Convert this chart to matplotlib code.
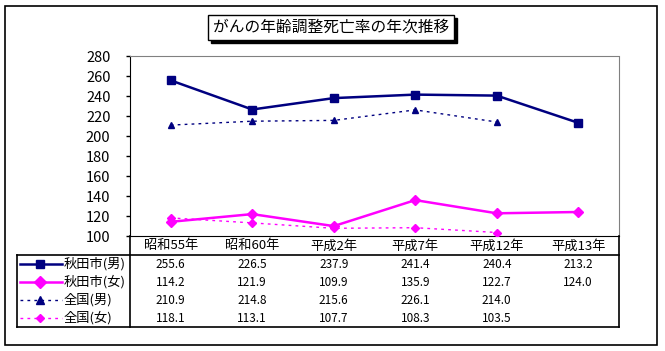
import numpy as np
import matplotlib
matplotlib.use("Agg")
import matplotlib.pyplot as plt
from matplotlib.lines import Line2D
from matplotlib.patches import Rectangle

plt.rcParams['font.family'] = ['Noto Sans CJK JP', 'DejaVu Sans']

categories = ['昭和55年', '昭和60年', '平成2年', '平成7年', '平成12年', '平成13年']
akita_m = [255.6, 226.5, 237.9, 241.4, 240.4, 213.2]
akita_f = [114.2, 121.9, 109.9, 135.9, 122.7, 124.0]
zenkoku_m = [210.9, 214.8, 215.6, 226.1, 214.0, None]
zenkoku_f = [118.1, 113.1, 107.7, 108.3, 103.5, None]
series_names = ['秋田市(男)', '秋田市(女)', '全国(男)', '全国(女)']
yticks = list(range(100, 281, 20))

W, H = 665, 351
NAVY = '#000080'
MAG = '#FF00FF'


def fx(x):
    return x / W


def fy(y):
    return 1 - y / H


def main():
    fig = plt.figure(figsize=(W / 100, H / 100), dpi=100)

    # outer frame
    fig.add_artist(Rectangle((fx(5), fy(345)), fx(652), 339 / H, fill=False,
                             edgecolor='black', lw=1.2, transform=fig.transFigure))

    # title with shadow
    fig.add_artist(Rectangle((fx(211), fy(43)), fx(246), 25 / H, facecolor='black',
                             edgecolor='black', lw=1, transform=fig.transFigure))
    fig.add_artist(Rectangle((fx(208), fy(40)), fx(246), 25 / H, facecolor='white',
                             edgecolor='black', lw=1, transform=fig.transFigure))
    fig.text(fx(331), fy(27.5), 'がんの年齢調整死亡率の年次推移', ha='center', va='center',
             fontsize=11.3)

    left, right, top, bottom = 130, 619, 56, 236
    ax = fig.add_axes([fx(left), fy(bottom), (right - left) / W, (bottom - top) / H])
    x = np.arange(len(categories))

    def arr(v):
        return np.array([np.nan if a is None else a for a in v], dtype=float)

    styles = [
        dict(color=NAVY, lw=1.8, marker='s', ms=5.5),
        dict(color=MAG, lw=1.8, marker='D', ms=5.5),
        dict(color=NAVY, lw=1, ls=(0, (2, 3)), marker='^', ms=5),
        dict(color=MAG, lw=1, ls=(0, (2, 3)), marker='D', ms=4),
    ]
    all_vals = [akita_m, akita_f, zenkoku_m, zenkoku_f]
    for st, vals, z in zip(styles, all_vals, [4, 4, 3, 3]):
        ax.plot(x, arr(vals), zorder=z, **st)

    ax.set_xlim(-0.5, len(categories) - 0.5)
    ax.set_ylim(100, 280)
    ax.set_yticks(yticks)
    ax.set_yticklabels([str(t) for t in yticks], fontsize=10.5)
    ax.set_xticks([])
    ax.tick_params(axis='y', direction='out', length=3, width=1, pad=11)
    for s in ['top', 'right']:
        ax.spines[s].set_color('#808080')
        ax.spines[s].set_linestyle((0, (1, 1)))
        ax.spines[s].set_linewidth(0.8)
    ax.spines['left'].set_color('black')
    ax.spines['bottom'].set_color('black')

    # data table
    tl = 17
    row_top = 255
    row_h = 18
    tb = row_top + row_h * 4
    lines = [
        ([left, left], [bottom, tb]),
        ([right, right], [bottom, tb]),
        ([tl, right], [row_top, row_top]),
        ([tl, right], [tb, tb]),
        ([tl, tl], [row_top, tb]),
    ]
    for xs, ys in lines:
        fig.add_artist(Line2D([fx(v) for v in xs], [fy(v) for v in ys], color='black',
                              lw=1.2, transform=fig.transFigure))

    step = (right - left) / len(categories)
    for i, c in enumerate(categories):
        fig.text(fx(left + step * (i + 0.5)), fy(246), c, ha='center', va='center',
                 fontsize=9.5)

    for r, (name, st, vals) in enumerate(zip(series_names, styles, all_vals)):
        yc = row_top + row_h * (r + 0.5)
        fig.add_artist(Line2D([fx(20), fx(62)], [fy(yc), fy(yc)], transform=fig.transFigure,
                              markevery=[], **st))
        fig.add_artist(Line2D([fx(40)], [fy(yc)], transform=fig.transFigure,
                              color=st['color'], marker=st['marker'], ms=st['ms'] + 0.5, lw=0))
        fig.text(fx(64), fy(yc), name, ha='left', va='center', fontsize=9.5)
        for i, v in enumerate(vals):
            if v is None:
                continue
            fig.text(fx(left + step * (i + 0.5)), fy(yc), '%.1f' % v, ha='center',
                     va='center', fontsize=8.5)

    fig.savefig('out.png', dpi=100)


if __name__ == "__main__":
    main()
